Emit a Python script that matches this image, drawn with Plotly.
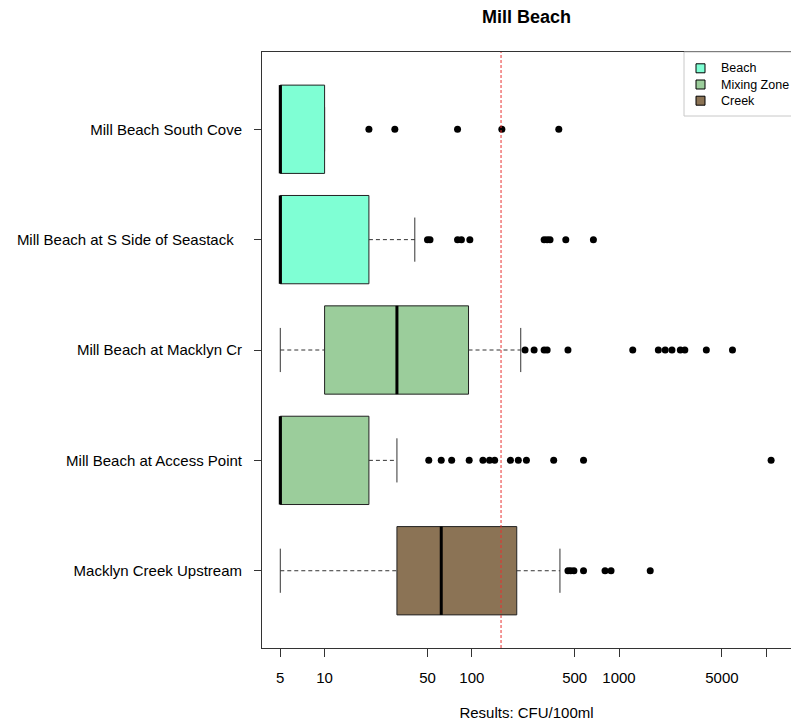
import plotly.graph_objects as go

FONT = "Liberation Sans, Arial, sans-serif"

# Sampling sites, listed top to bottom as they appear on the chart
sites = [
    "Mill Beach South Cove",
    "Mill Beach at S Side of Seastack\u00a0\u00a0",
    "Mill Beach at Macklyn Cr",
    "Mill Beach at Access Point",
    "Macklyn Creek Upstream",
]
zones = ["Beach", "Beach", "Mixing Zone", "Mixing Zone", "Creek"]

# Box statistics (CFU/100ml)
whisker_lo = [5, 5, 5, 5, 5]
q1 = [5, 5, 10, 5, 31]
median = [5, 5, 31, 5, 62]
q3 = [10, 20, 95, 20, 202]
whisker_hi = [10, 41, 215, 31, 397]

# Outlying samples per site
out_south_cove = [20, 30, 80, 160, 390]
out_seastack = [50, 52, 80, 85, 97, 310, 325, 340, 435, 670]
out_macklyn_cr = [230, 265, 310, 325, 450, 1240, 1850, 2060, 2290, 2610, 2800, 3920, 5900]
out_access_point = [51, 62, 73, 96, 119, 132, 143, 183, 207, 235, 360, 574, 10800]
out_creek_upstream = [450, 469, 494, 574, 804, 883, 1630]
outliers = [out_south_cove, out_seastack, out_macklyn_cr, out_access_point, out_creek_upstream]

# Single-sample advisory threshold
threshold = 158

x_tickvals = [5, 10, 50, 100, 500, 1000, 5000, 10000]
x_ticktext = ["5", "10", "50", "100", "500", "1000", "5000", ""]

zone_names = ["Beach", "Mixing Zone", "Creek"]
zone_colors = ["#7FFFD4", "#9BCD9B", "#8B7355"]
color_of = dict(zip(zone_names, zone_colors))

n = len(sites)
positions = [n - i for i in range(n)]  # top site gets the highest position
BOX_HALF = 0.4
STAPLE_HALF = 0.2

fig = go.Figure()

# Box bodies
for i in range(n):
    fig.add_trace(go.Box(
        orientation="h",
        y=[positions[i]],
        q1=[q1[i]], median=[median[i]], q3=[q3[i]],
        lowerfence=[q1[i]], upperfence=[q3[i]],
        width=2 * BOX_HALF,
        whiskerwidth=0,
        fillcolor=color_of[zones[i]],
        line=dict(color="#222222", width=1),
        boxpoints=False,
        hoverinfo="skip",
        showlegend=False,
    ))

# Dashed whiskers
wx, wy = [], []
for i in range(n):
    p = positions[i]
    wx += [whisker_lo[i], q1[i], None, q3[i], whisker_hi[i], None]
    wy += [p, p, None, p, p, None]
fig.add_trace(go.Scatter(x=wx, y=wy, mode="lines", hoverinfo="skip", showlegend=False,
                         line=dict(color="#333333", width=1, dash="4px,3px")))

# Whisker staples
sx, sy = [], []
for i in range(n):
    p = positions[i]
    for v in (whisker_lo[i], whisker_hi[i]):
        sx += [v, v, None]
        sy += [p - STAPLE_HALF, p + STAPLE_HALF, None]
fig.add_trace(go.Scatter(x=sx, y=sy, mode="lines", hoverinfo="skip", showlegend=False,
                         line=dict(color="#333333", width=1)))

# Thick median bars
mx, my = [], []
for i in range(n):
    p = positions[i]
    mx += [median[i], median[i], None]
    my += [p - BOX_HALF, p + BOX_HALF, None]
fig.add_trace(go.Scatter(x=mx, y=my, mode="lines", hoverinfo="skip", showlegend=False,
                         line=dict(color="#000000", width=3)))

# Outlier points
ox, oy = [], []
for i in range(n):
    ox += outliers[i]
    oy += [positions[i]] * len(outliers[i])
fig.add_trace(go.Scatter(x=ox, y=oy, mode="markers", showlegend=False,
                         marker=dict(color="#000000", size=7, line=dict(width=0))))

# Threshold line
y_lo, y_hi = 0.3, n + 0.7
fig.add_trace(go.Scatter(x=[threshold, threshold], y=[y_lo, y_hi], mode="lines",
                         hoverinfo="skip", showlegend=False,
                         line=dict(color="#E8312F", width=1, dash="3px,2px")))

# Layout geometry (pixels)
W, H = 791, 723
L, R, T, B = 262, 0, 52, 75
PW, PH = W - L - R, H - T - B


def px_x(px):
    return (px - L) / PW


def px_y(py):
    return (H - B - py) / PH


# Legend box with fill swatches
shapes = [dict(type="rect", xref="paper", yref="paper",
               x0=px_x(684), x1=px_x(800), y0=px_y(116), y1=px_y(52),
               fillcolor="white", line=dict(color="#C8C8C8", width=1), layer="above")]
annotations = []
for k, (name, col) in enumerate(zip(zone_names, zone_colors)):
    cy = 68.3 + 16.2 * k
    shapes.append(dict(type="rect", xref="paper", yref="paper",
                       x0=px_x(696), x1=px_x(705), y0=px_y(cy + 4.5), y1=px_y(cy - 4.5),
                       fillcolor=col, line=dict(color="#000000", width=1), layer="above"))
    annotations.append(dict(x=px_x(719), y=px_y(cy), xref="paper", yref="paper",
                            text=name, showarrow=False, xanchor="left", yanchor="middle",
                            font=dict(family=FONT, size=12.5, color="#000000")))

fig.update_layout(
    width=W, height=H,
    margin=dict(l=L, r=R, t=T, b=B),
    paper_bgcolor="white", plot_bgcolor="white",
    showlegend=False,
    font=dict(family=FONT, color="#000000"),
    title=dict(text="<b>Mill Beach</b>", x=0.5, xref="paper", xanchor="center",
               y=1 - 17 / H, yref="container", yanchor="middle",
               font=dict(family=FONT, size=18, color="#000000")),
    shapes=shapes,
    annotations=annotations,
    xaxis=dict(
        type="log", range=[0.5747, 4.1685],
        tickvals=x_tickvals, ticktext=x_ticktext,
        ticks="outside", ticklen=8, tickcolor="#333333", tickwidth=1,
        showline=True, linecolor="#333333", linewidth=1, mirror=True,
        showgrid=False, zeroline=False,
        tickfont=dict(size=15), ticklabelstandoff=8,
        title=dict(text="Results: CFU/100ml", font=dict(size=15), standoff=22),
    ),
    yaxis=dict(
        range=[y_lo, y_hi],
        tickvals=positions, ticktext=sites,
        ticks="outside", ticklen=7, tickcolor="#333333", tickwidth=1,
        showline=True, linecolor="#333333", linewidth=1,
        showgrid=False, zeroline=False,
        tickfont=dict(size=15), ticklabelstandoff=9,
    ),
)

fig.write_html("out.html")
